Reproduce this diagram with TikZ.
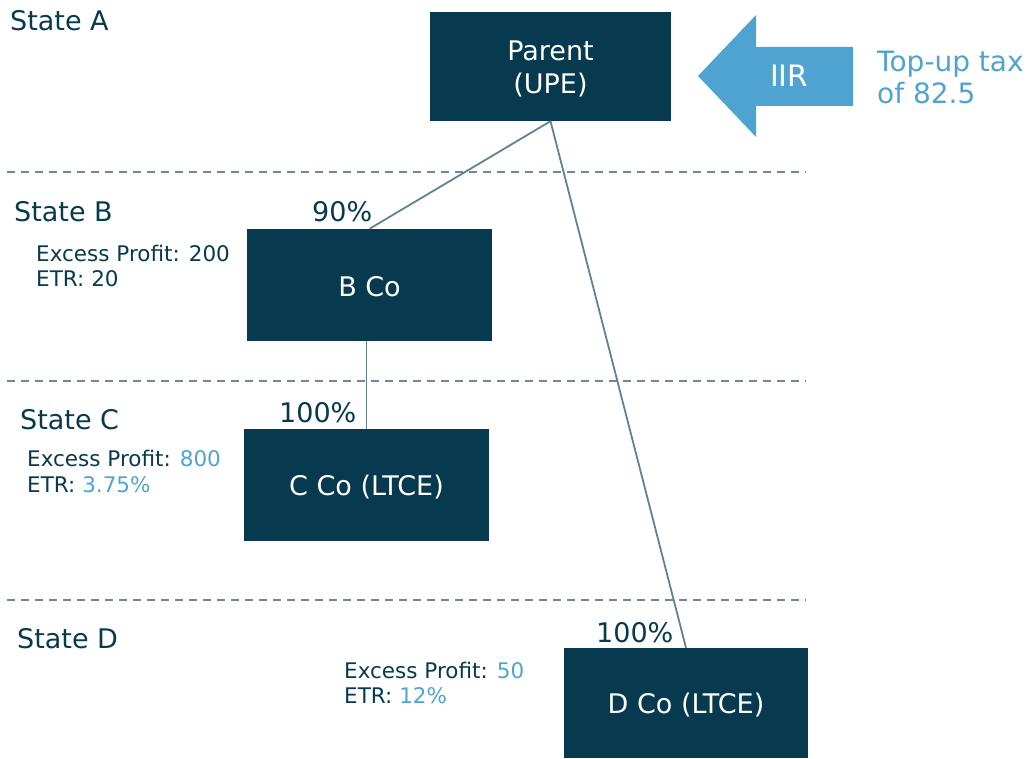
\documentclass[tikz,border=0pt]{standalone}
\usepackage{fontspec}
\setmainfont{DejaVu Sans}
\definecolor{navy}{HTML}{083A4F}
\definecolor{lblue}{HTML}{4FA3D1}
\definecolor{conn}{HTML}{5F8392}
\definecolor{dash}{HTML}{6B8A97}
\newcommand{\lowerby}[2]{\raisebox{-#1}[\height][\depth]{#2}}
\begin{document}
\begin{tikzpicture}[x=1pt,y=-1pt,
  box/.style={fill=navy,text=white,minimum width=#1,inner sep=0pt,align=center,
     font=\fontsize{27}{34}\selectfont},
  statelbl/.style={anchor=base west,inner sep=0pt,text=navy,font=\fontsize{27}{30}\selectfont},
  info/.style={anchor=base west,inner sep=0pt,text=navy,font=\fontsize{21.5}{25}\selectfont},
  pct/.style={anchor=base west,inner sep=0pt,text=navy,font=\fontsize{27}{30}\selectfont},
  sep/.style={draw=dash,line width=2pt,dash pattern=on 7.5pt off 6.5pt},
  link/.style={draw=conn,line width=1.8pt}]
\useasboundingbox (0,0) rectangle (1032,759);
% separators
\draw[sep] (7,172) -- (806,172);
\draw[sep] (7,381) -- (806,381);
\draw[sep] (7,600) -- (806,600);
% boxes
\node[box=241pt,minimum height=109pt] (upe) at (550.5,66.5) {\lowerby{4pt}{\begin{tabular}{@{}c@{}}Parent\\[-1pt](UPE)\end{tabular}}};
\node[box=245pt,minimum height=112pt] (bco) at (369.5,285) {\lowerby{2pt}{B Co}};
\node[box=245pt,minimum height=112pt] (cco) at (366.5,485) {\lowerby{2pt}{C Co (LTCE)}};
\node[box=244pt,minimum height=110pt] (dco) at (686,703) {\lowerby{2pt}{D Co (LTCE)}};
% connectors
\draw[link] (upe.south) -- (bco.north);
\draw[link] (upe.south) -- (dco.north);
\draw[link] (bco.south -| cco.north) -- (cco.north);
% IIR arrow
\fill[lblue] (698,76) -- (756,15) -- (756,47) -- (853,47) -- (853,106) -- (756,106) -- (756,137) -- cycle;
\node[text=white,font=\fontsize{29.5}{30}\selectfont,inner sep=0pt] (iir) at (789,76) {IIR};
\node[anchor=base west,inner sep=0pt,text=lblue,font=\fontsize{28}{30}\selectfont] (tu1) at (877,72) {Top-up tax};
\node[anchor=base west,inner sep=0pt,text=lblue,font=\fontsize{28}{30}\selectfont] (tu2) at (877,104) {of 82.5};
% state labels
\node[statelbl] (sa) at (10,31) {State A};
\node[statelbl] (sb) at (14,222) {State B};
\node[statelbl] (sc) at (20,429) {State C};
\node[statelbl] (sd) at (17,648) {State D};
% percentages
\node[pct] (p90) at (312,222) {90\%};
\node[pct] (p100c) at (279,422) {100\%};
\node[pct] (p100d) at (596,642) {100\%};
% info texts
\node[info] (ib1) at (36,261) {Excess Profit: 200};
\node[info] (ib2) at (36,286) {ETR: 20};
\node[info] (ic1) at (27,466) {Excess Profit: \textcolor{lblue}{800}};
\node[info] (ic2) at (27,492) {ETR: \textcolor{lblue}{3.75\%}};
\node[info] (id1) at (344,678) {Excess Profit: \textcolor{lblue}{50}};
\node[info] (id2) at (344,703) {ETR: \textcolor{lblue}{12\%}};
\end{tikzpicture}
\end{document}
